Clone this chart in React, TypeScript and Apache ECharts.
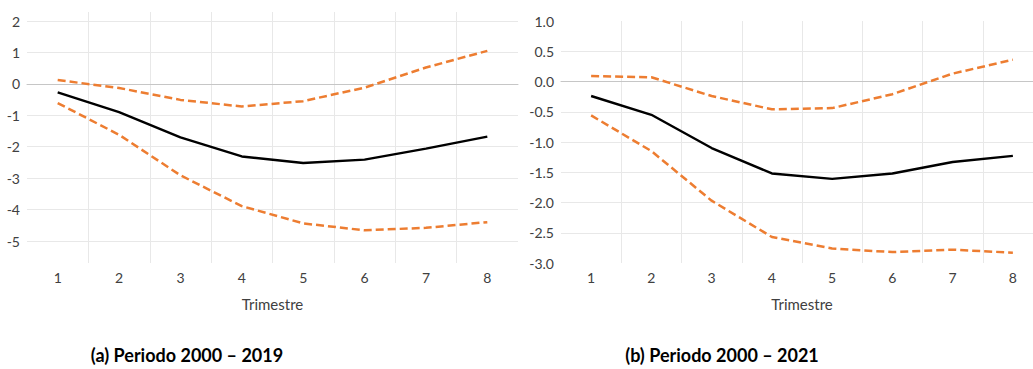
import React, { useEffect, useRef } from "react";
import * as echarts from "echarts";

const categories = ["1", "2", "3", "4", "5", "6", "7", "8"];

// Panel (a) Periodo 2000 – 2019
const aCentral = [-0.27, -0.9, -1.7, -2.31, -2.52, -2.41, -2.06, -1.68];
const aUpper = [0.12, -0.13, -0.51, -0.72, -0.55, -0.12, 0.52, 1.05];
const aLower = [-0.61, -1.62, -2.91, -3.89, -4.44, -4.66, -4.58, -4.4];

// Panel (b) Periodo 2000 – 2021
const bCentral = [-0.24, -0.55, -1.1, -1.52, -1.61, -1.52, -1.33, -1.23];
const bUpper = [0.09, 0.07, -0.24, -0.46, -0.44, -0.21, 0.13, 0.36];
const bLower = [-0.56, -1.15, -1.97, -2.57, -2.76, -2.82, -2.78, -2.83];

const titleA = "(a) Periodo 2000 – 2019";
const titleB = "(b) Periodo 2000 – 2021";
const xName = "Trimestre";

const FONT = "Lato";
const TICK_COLOR = "#404040";
const GRID_COLOR = "#e8e8e8";
const ZERO_COLOR = "#c6c6c6";
const ORANGE = "#ED7D31";

export default function App() {
  const ref = useRef<HTMLDivElement>(null);
  useEffect(() => {
    if (!ref.current) return;
    const chart = echarts.init(ref.current, undefined, { renderer: "svg" });

    const dataGrid = (left: number, top: number, height: number, width: number) => ({
      left,
      top,
      height,
      width,
      containLabel: false,
    });

    const frameX = (gridIndex: number) => ({
      type: "category",
      gridIndex,
      data: categories,
      boundaryGap: true,
      axisLine: { show: false },
      axisTick: { show: false },
      axisLabel: { color: TICK_COLOR, fontFamily: FONT, fontSize: 14, margin: 7 },
      splitLine: {
        show: true,
        showMinLine: false,
        showMaxLine: false,
        lineStyle: { color: GRID_COLOR, width: 1 },
      },
      name: xName,
      nameLocation: "middle",
      nameGap: 33,
      nameTextStyle: { color: TICK_COLOR, fontFamily: FONT, fontSize: 15 },
    });

    const dataX = (gridIndex: number) => ({
      type: "category",
      gridIndex,
      data: categories,
      boundaryGap: true,
      axisLine: { show: true, onZero: true, lineStyle: { color: ZERO_COLOR, width: 1 } },
      axisTick: { show: false },
      axisLabel: { show: false },
      splitLine: { show: false },
    });

    const hiddenY = (gridIndex: number) => ({
      type: "value",
      gridIndex,
      min: 0,
      max: 1,
      show: false,
      splitLine: { show: false },
    });

    const dataY = (
      gridIndex: number,
      min: number,
      max: number,
      interval: number,
      decimals: number,
      showEnds: boolean
    ) => ({
      type: "value",
      gridIndex,
      min,
      max,
      interval,
      axisLine: { show: false },
      axisTick: { show: false },
      axisLabel: {
        color: TICK_COLOR,
        fontFamily: FONT,
        fontSize: 14,
        margin: 7,
        formatter: (v: number) => v.toFixed(decimals),
      },
      splitLine: {
        show: true,
        showMinLine: showEnds,
        showMaxLine: showEnds,
        lineStyle: { color: GRID_COLOR, width: 1 },
      },
    });

    const mk = (data: number[], xi: number, yi: number, dashed: boolean) => ({
      type: "line",
      xAxisIndex: xi,
      yAxisIndex: yi,
      data,
      symbol: "none",
      smooth: false,
      lineStyle: dashed
        ? { color: ORANGE, width: 2.5, type: [8, 4] }
        : { color: "#000000", width: 2.4 },
      z: dashed ? 3 : 4,
    });

    chart.setOption({
      animation: false,
      backgroundColor: "#ffffff",
      grid: [
        dataGrid(27, 12, 251, 491),
        dataGrid(27, 21, 220, 491),
        dataGrid(561, 21, 242, 482),
        dataGrid(561, 21, 242, 482),
      ],
      xAxis: [frameX(0), dataX(1), frameX(2), dataX(3)],
      yAxis: [
        hiddenY(0),
        dataY(1, -5, 2, 1, 0, true),
        hiddenY(2),
        dataY(3, -3, 1, 0.5, 1, false),
      ],
      series: [
        mk(aUpper, 1, 1, true),
        mk(aLower, 1, 1, true),
        mk(aCentral, 1, 1, false),
        mk(bUpper, 3, 3, true),
        mk(bLower, 3, 3, true),
        mk(bCentral, 3, 3, false),
      ],
      graphic: [
        {
          type: "text",
          x: 187,
          y: 355,
          style: {
            text: titleA,
            fill: "#000000",
            font: `bold 18px ${FONT}`,
            align: "center",
            verticalAlign: "middle",
          },
        },
        {
          type: "text",
          x: 722,
          y: 355,
          style: {
            text: titleB,
            fill: "#000000",
            font: `bold 18px ${FONT}`,
            align: "center",
            verticalAlign: "middle",
          },
        },
      ],
    });
    return () => chart.dispose();
  }, []);

  return (
    <div
      ref={ref}
      style={{ position: "fixed", left: 0, top: 0, width: 1050, height: 369, background: "#fff" }}
    />
  );
}
